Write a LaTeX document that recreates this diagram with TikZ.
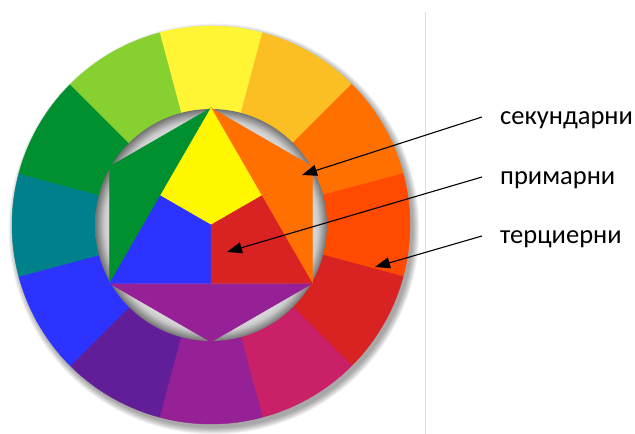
\documentclass[tikz,border=0pt]{standalone}
\usepackage{fontspec}
\setmainfont{Carlito}
\usepackage{xcolor}
\usetikzlibrary{arrows.meta,positioning,calc}

\definecolor{cY}{HTML}{FFF535}
\definecolor{cYO}{HTML}{FBBF24}
\definecolor{cO}{HTML}{FF7000}
\definecolor{cRO}{HTML}{FF4A00}
\definecolor{cR}{HTML}{D92222}
\definecolor{cRV}{HTML}{C92067}
\definecolor{cV}{HTML}{962196}
\definecolor{cBV}{HTML}{621E99}
\definecolor{cB}{HTML}{2D33FF}
\definecolor{cBG}{HTML}{00808A}
\definecolor{cG}{HTML}{009030}
\definecolor{cYG}{HTML}{86D12F}
\definecolor{cYin}{HTML}{FFF700}

\pgfdeclareradialshading{holeshade}{\pgfpoint{0bp}{0bp}}{color(0bp)=(white); color(19bp)=(white); color(23bp)=(black!20); color(25bp)=(black!55); color(50bp)=(black!55)}

\begin{document}
\begin{tikzpicture}[
  x=1pt, y=1pt,
  lbl/.style={font=\fontsize{26.5}{30}\selectfont, anchor=base west, inner sep=0pt},
  pointer/.style={-{Triangle[length=15pt, width=11pt]}, line width=1.1pt},
  seg/.style={line width=0.4pt},
]
\useasboundingbox (0,0) rectangle (635,434);
\draw[gray!25, line width=0.8pt] (425,0) -- (425,422);

\begin{scope}[shift={(211,209)}]
% soft shadow under the ring
\foreach \k in {0,...,7} {
  \fill[black, opacity=0.05] (3,-4) circle[radius=199+\k*0.9];
}
% twelve outer sectors
\foreach \a/\c in {90/cY, 60/cYO, 30/cO, 0/cRO, -30/cR, -60/cRV, -90/cV,
                   -120/cBV, -150/cB, 180/cBG, 150/cG, 120/cYG} {
  \fill[\c, draw=\c, seg] (0,0) -- (\a-15:199)
    arc[start angle=\a-15, end angle=\a+15, radius=199] -- cycle;
}
\shade[shading=holeshade] (0,0) circle[radius=116];

% hexagon and inner triangle
\coordinate (top) at (90:117);
\coordinate (ur) at (30:117);
\coordinate (lr) at (-30:117);
\coordinate (bot) at (-90:117);
\coordinate (ll) at (-150:117);
\coordinate (ul) at (150:117);
\coordinate (mid) at (0,0);
\coordinate (ml) at ($(top)!0.5!(ll)$);
\coordinate (mr) at ($(top)!0.5!(lr)$);
\coordinate (mb) at ($(ll)!0.5!(lr)$);
\fill[cG, draw=cG, seg] (top) -- (ul) -- (ll) -- cycle;
\fill[cO, draw=cO, seg] (top) -- (ur) -- (lr) -- cycle;
\fill[cV, draw=cV, seg] (ll) -- (lr) -- (bot) -- cycle;
\fill[cYin, draw=cYin, seg] (top) -- (mr) -- (mid) -- (ml) -- cycle;
\fill[cB, draw=cB, seg] (ml) -- (mid) -- (mb) -- (ll) -- cycle;
\fill[cR, draw=cR, seg] (mr) -- (lr) -- (mb) -- (mid) -- cycle;
\end{scope}

% labels and pointers
\node[lbl] (sek) at (500,309) {секундарни};
\node[lbl] (prim) at (500,249) {примарни};
\node[lbl] (terc) at (500,190) {терциерни};
\coordinate (tsek) at (302,259);
\coordinate (tprim) at (227,182);
\coordinate (tterc) at (375,167);
\draw[pointer] ([xshift=-18pt, yshift=8pt]sek.base west) -- (tsek);
\draw[pointer] ([xshift=-18pt, yshift=8pt]prim.base west) -- (tprim);
\draw[pointer] ([xshift=-18pt, yshift=8pt]terc.base west) -- (tterc);
\end{tikzpicture}
\end{document}
